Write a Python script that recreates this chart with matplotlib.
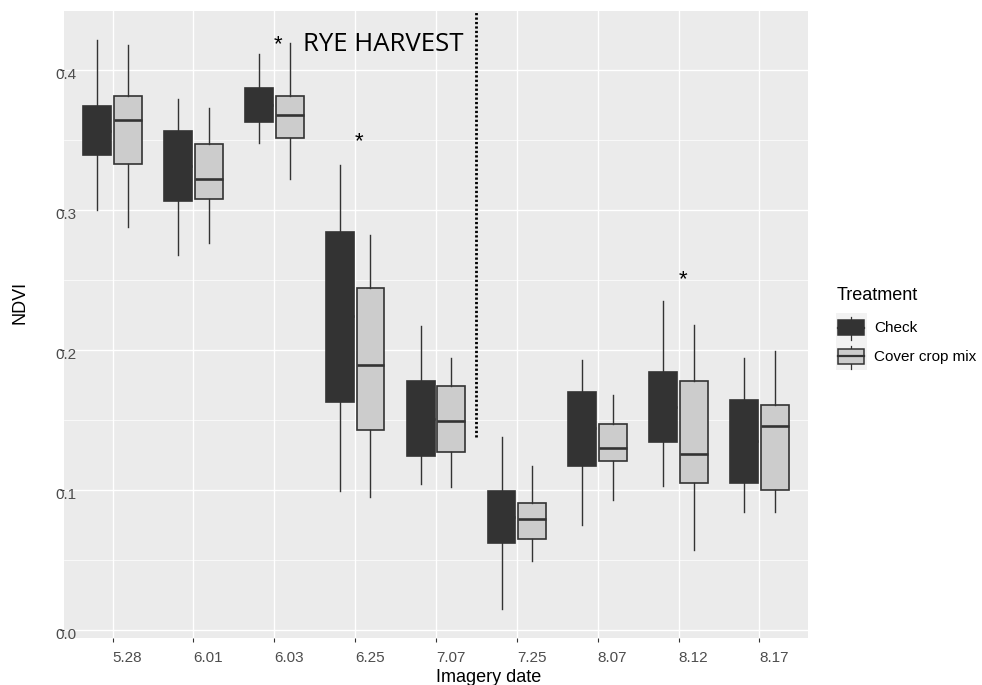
import matplotlib
matplotlib.use("Agg")
import matplotlib.pyplot as plt
from matplotlib.legend_handler import HandlerBase
from matplotlib.patches import Rectangle, Patch
from matplotlib.lines import Line2D

plt.rcParams["font.family"] = ["Liberation Sans", "DejaVu Sans"]

dates = ["5.28", "6.01", "6.03", "6.25", "7.07", "7.25", "8.07", "8.12", "8.17"]

# Check
check_whislo = [0.300, 0.268, 0.348, 0.099, 0.104, 0.015, 0.075, 0.103, 0.084]
check_q1 = [0.339, 0.306, 0.363, 0.163, 0.124, 0.062, 0.117, 0.134, 0.105]
check_med = [0.356, 0.331, 0.375, 0.224, 0.151, 0.081, 0.144, 0.159, 0.135]
check_q3 = [0.374, 0.356, 0.387, 0.284, 0.178, 0.0995, 0.170, 0.184, 0.164]
check_whishi = [0.421, 0.379, 0.411, 0.332, 0.217, 0.138, 0.193, 0.235, 0.194]

# Cover crop mix
cover_whislo = [0.288, 0.276, 0.322, 0.095, 0.102, 0.049, 0.093, 0.057, 0.084]
cover_q1 = [0.333, 0.308, 0.351, 0.143, 0.127, 0.065, 0.121, 0.105, 0.100]
cover_med = [0.364, 0.322, 0.368, 0.189, 0.149, 0.079, 0.130, 0.126, 0.146]
cover_q3 = [0.381, 0.347, 0.381, 0.244, 0.174, 0.091, 0.147, 0.178, 0.1605]
cover_whishi = [0.418, 0.373, 0.419, 0.282, 0.194, 0.117, 0.168, 0.218, 0.199]

# significance marks (x in category units, y in NDVI)
star_x = [3.05, 4.05, 8.05]
star_y = [0.414, 0.345, 0.246]

harvest_x = 5.5
harvest_ymin = 0.138

y_ticks = [0.0, 0.1, 0.2, 0.3, 0.4]
y_minor = [0.05, 0.15, 0.25, 0.35]

DARK = "#333333"
LIGHT = "#cccccc"
EDGE = "#333333"


def stats(lo, q1, med, q3, hi):
    return [dict(whislo=a, q1=b, med=c, q3=d, whishi=e, fliers=[])
            for a, b, c, d, e in zip(lo, q1, med, q3, hi)]


class BoxKey(HandlerBase):
    def create_artists(self, legend, orig_handle, xdescent, ydescent,
                       width, height, fontsize, trans):
        x0, y0 = -xdescent, -ydescent
        face = orig_handle.get_facecolor()
        bg = Rectangle((x0, y0), width, height, facecolor="#f2f2f2",
                       edgecolor="none", transform=trans)
        cx = x0 + width / 2
        wh = Line2D([cx, cx], [y0 + 0.05 * height, y0 + 0.85 * height],
                    color=EDGE, lw=0.9, transform=trans)
        box = Rectangle((x0 + 0.05 * width, y0 + 0.22 * height), 0.86 * width,
                        0.52 * height, facecolor=face, edgecolor=EDGE,
                        lw=1.1, transform=trans)
        med = Line2D([x0 + 0.05 * width, x0 + 0.91 * width],
                     [y0 + 0.48 * height] * 2, color=EDGE, lw=1.6,
                     transform=trans)
        return [bg, wh, box, med]


fig = plt.figure(figsize=(9.82, 6.85), dpi=100)
ax = fig.add_axes([64 / 982, 47 / 685, 744 / 982, 627 / 685])
ax.set_facecolor("#ebebeb")
for s in ax.spines.values():
    s.set_visible(False)

pos = list(range(1, len(dates) + 1))
off, w = 0.19, 0.345

common = dict(widths=w, patch_artist=True, showcaps=False, showfliers=False,
              whiskerprops=dict(color=EDGE, lw=1.0),
              medianprops=dict(color=EDGE, lw=1.9, solid_capstyle="butt"))
ax.bxp(stats(check_whislo, check_q1, check_med, check_q3, check_whishi),
       positions=[p - off for p in pos],
       boxprops=dict(facecolor=DARK, edgecolor=EDGE, lw=1.2), **common)
ax.bxp(stats(cover_whislo, cover_q1, cover_med, cover_q3, cover_whishi),
       positions=[p + off for p in pos],
       boxprops=dict(facecolor=LIGHT, edgecolor=EDGE, lw=1.2), **common)

ax.set_xlim(0.4, 9.6)
ax.set_ylim(-0.0057, 0.442)
ax.set_xticks(pos)
ax.set_yticks(y_ticks)
ax.set_yticks(y_minor, minor=True)
ax.set_axisbelow(True)
ax.grid(True, which="major", color="white", lw=1.0)
ax.grid(True, which="minor", axis="y", color="white", lw=0.5)
ax.tick_params(which="major", length=3, width=0.8, color="#333333",
               labelbottom=False, labelleft=False)
ax.tick_params(which="minor", length=0)

# tick labels (offset as in the original)
for p, d in zip(pos, dates):
    ax.annotate(d, xy=(p, 0), xycoords=ax.get_xaxis_transform(),
                xytext=(0, -24), textcoords="offset pixels",
                ha="left", va="baseline", fontsize=11, color="#4d4d4d")
for v in y_ticks:
    ax.annotate(f"{v:.1f}", xy=(0, v), xycoords=ax.get_yaxis_transform(),
                xytext=(-9, -9), textcoords="offset pixels",
                ha="left", va="baseline", fontsize=11, color="#4d4d4d")

ax.vlines(harvest_x, harvest_ymin, 0.442, colors="black", lw=2.0,
          linestyles=(0, (0.8, 0.8)))
ax.text(3.355, 0.4136, "RYE HARVEST", family="Open Sans", fontsize=18.5,
        ha="left", va="baseline", color="black")
for sx, sy in zip(star_x, star_y):
    ax.text(sx, sy, "*", fontsize=16, ha="center", va="baseline", color="black")

fig.text(20 / 982, 1 - 302 / 685, "NDVI", rotation=90, ha="center",
         va="center", fontsize=13)
fig.text(436 / 982, 3 / 685, "Imagery date", ha="left", va="baseline",
         fontsize=13)

# legend
fig.text(837 / 982, 1 - 300 / 685, "Treatment", ha="left", va="baseline",
         fontsize=13)
handles = [Patch(facecolor=DARK), Patch(facecolor=LIGHT)]
leg = fig.legend(handles, ["Check", "Cover crop mix"],
                 handler_map={Patch: BoxKey()}, loc="upper left",
                 bbox_to_anchor=(836 / 982, 1 - 313 / 685), frameon=False,
                 borderpad=0, borderaxespad=0, fontsize=11,
                 handlelength=2.0, handleheight=2.5, labelspacing=0,
                 handletextpad=0.5)

fig.savefig("out.png", dpi=100)
